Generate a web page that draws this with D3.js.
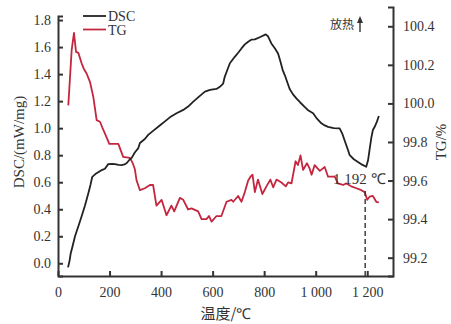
<!DOCTYPE html>
<html>
<head>
<meta charset="utf-8">
<script src="https://cdn.jsdelivr.net/npm/d3@7"></script>
<style>
    body { margin: 0; background: #fff; }
    svg { display: block; }
    .axis path, .axis line { stroke: #333; stroke-width: 2; }
    .axis text { font-family: "Liberation Serif", "DejaVu Serif", serif; font-size: 14px; fill: #333; }
</style>
</head>
<body>
<svg id="chart" width="451" height="324"></svg>
<script>
// temperature (℃) and DSC (mW/mg)
const dscTemp = [39, 45, 49, 57, 66, 80, 92, 105, 118, 126, 133, 145, 156, 170, 182, 195, 210, 221, 235, 247, 258, 266, 279, 286, 298, 311, 318, 337, 350, 369, 395, 415, 434, 460, 486, 505, 524, 545, 570, 590, 602, 615, 628, 641, 647, 657, 667, 686, 700, 712, 725, 738, 750, 764, 785, 806, 815, 828, 842, 854, 862, 872, 880, 899, 912, 925, 940, 957, 972, 990, 1005, 1022, 1035, 1048, 1070, 1093, 1103, 1112, 1125, 1132, 1148, 1164, 1180, 1196, 1203, 1209, 1216, 1222, 1229, 1238, 1245]
const dscValue = [-0.03, 0.02, 0.07, 0.13, 0.2, 0.28, 0.35, 0.43, 0.52, 0.58, 0.64, 0.66, 0.673, 0.69, 0.70, 0.734, 0.735, 0.734, 0.728, 0.727, 0.732, 0.74, 0.77, 0.78, 0.82, 0.85, 0.89, 0.92, 0.95, 0.98, 1.02, 1.05, 1.08, 1.11, 1.135, 1.16, 1.195, 1.23, 1.27, 1.283, 1.287, 1.29, 1.306, 1.33, 1.38, 1.43, 1.48, 1.528, 1.56, 1.59, 1.62, 1.64, 1.655, 1.657, 1.675, 1.694, 1.68, 1.627, 1.59, 1.553, 1.50, 1.43, 1.393, 1.29, 1.25, 1.22, 1.19, 1.158, 1.13, 1.11, 1.07, 1.036, 1.02, 1.01, 1.0, 0.998, 0.96, 0.91, 0.84, 0.80, 0.77, 0.75, 0.73, 0.714, 0.76, 0.84, 0.93, 0.986, 1.01, 1.05, 1.09]

// temperature (℃) and TG (%)
const tgTemp = [40, 53, 62, 70, 79, 92, 100, 111, 124, 137, 150, 163, 172, 182, 199, 234, 253, 279, 290, 298, 305, 318, 337, 357, 369, 382, 402, 421, 440, 451, 473, 486, 505, 518, 544, 557, 576, 586, 596, 615, 634, 654, 673, 680, 699, 712, 725, 738, 747, 755, 764, 776, 793, 809, 824, 835, 848, 867, 884, 893, 906, 922, 931, 941, 951, 966, 977, 984, 996, 1016, 1035, 1048, 1074, 1086, 1106, 1119, 1138, 1158, 1177, 1190, 1200, 1209, 1222, 1235, 1245]
const tgValue = [99.99, 100.276, 100.366, 100.267, 100.262, 100.207, 100.18, 100.155, 100.112, 100.034, 99.913, 99.905, 99.875, 99.845, 99.79, 99.79, 99.723, 99.718, 99.69, 99.66, 99.6, 99.55, 99.56, 99.577, 99.577, 99.47, 99.5, 99.42, 99.47, 99.44, 99.51, 99.5, 99.45, 99.456, 99.44, 99.40, 99.40, 99.416, 99.387, 99.416, 99.416, 99.49, 99.5, 99.49, 99.52, 99.49, 99.54, 99.6, 99.62, 99.63, 99.54, 99.605, 99.53, 99.57, 99.605, 99.565, 99.605, 99.59, 99.57, 99.59, 99.585, 99.70, 99.68, 99.73, 99.655, 99.69, 99.66, 99.63, 99.68, 99.65, 99.67, 99.62, 99.62, 99.585, 99.577, 99.585, 99.57, 99.56, 99.55, 99.54, 99.50, 99.516, 99.52, 99.49, 99.487]

const xTicks = [0, 200, 400, 600, 800, 1000, 1200]
const dscTicks = [0.0, 0.2, 0.4, 0.6, 0.8, 1.0, 1.2, 1.4, 1.6, 1.8]
const tgTicks = [99.2, 99.4, 99.6, 99.8, 100.0, 100.2, 100.4]
const series = ["DSC", "TG"]
const colors = { DSC: "#222", TG: "#c3263e" }
const peakTemp = 1192
const peakLabel = "1 192 ℃"

const svg = d3.select("#chart")

const x = d3.scaleLinear().domain([0, 1300]).range([58, 393])
const yDsc = d3.scaleLinear().domain([-0.094, 1.83]).range([276, 16])
const yTg = d3.scaleLinear().domain([99.105, 100.5]).range([276, 7])

function fmtX(d) {
    return d >= 1000 ? Math.floor(d / 1000) + " " + d3.format("03")(d % 1000) : String(d)
}

function drawAxes() {
    svg.append("g")
        .attr("class", "axis")
        .attr("transform", "translate(0,276)")
        .call(d3.axisBottom(x).tickValues(xTicks).tickFormat(fmtX).tickSizeInner(-5).tickSizeOuter(0).tickPadding(11))

    svg.append("g")
        .attr("class", "axis")
        .attr("transform", "translate(58,0)")
        .call(d3.axisLeft(yDsc).tickValues(dscTicks).tickFormat(d3.format(".1f")).tickSizeInner(-5).tickSizeOuter(-5).tickPadding(7))

    svg.append("g")
        .attr("class", "axis")
        .attr("transform", "translate(393,0)")
        .call(d3.axisRight(yTg).tickValues(tgTicks).tickFormat(d3.format(".1f")).tickSizeInner(-5).tickSizeOuter(-5).tickPadding(10))

    svg.selectAll(".axis .domain").attr("fill", "none")
}

function drawLines() {
    const dscLine = d3.line()
        .x((d, i) => x(dscTemp[i]))
        .y(d => yDsc(d))

    const tgLine = d3.line()
        .x((d, i) => x(tgTemp[i]))
        .y(d => yTg(d))

    svg.append("path")
        .datum(tgValue)
        .attr("fill", "none")
        .attr("stroke", colors.TG)
        .attr("stroke-width", 1.8)
        .attr("stroke-linejoin", "round")
        .attr("d", tgLine)

    svg.append("path")
        .datum(dscValue)
        .attr("fill", "none")
        .attr("stroke", colors.DSC)
        .attr("stroke-width", 1.8)
        .attr("stroke-linejoin", "round")
        .attr("d", dscLine)
}

function drawNotes() {
    // dashed marker at the DSC minimum
    svg.append("line")
        .attr("x1", x(peakTemp)).attr("x2", x(peakTemp))
        .attr("y1", 191).attr("y2", 276)
        .attr("stroke", "#333")
        .attr("stroke-width", 1.4)
        .attr("stroke-dasharray", "5,3")

    svg.append("text")
        .attr("x", 333).attr("y", 184)
        .attr("font-family", "Liberation Serif, serif")
        .attr("font-size", 15)
        .attr("fill", "#333")
        .text(peakLabel)

    svg.append("text")
        .attr("x", 354).attr("y", 29)
        .attr("text-anchor", "end")
        .attr("font-family", "Noto Sans CJK SC")
        .attr("font-size", 12)
        .attr("fill", "#333")
        .text("放热")

    svg.append("line")
        .attr("x1", 360).attr("x2", 360)
        .attr("y1", 32).attr("y2", 21)
        .attr("stroke", "#333")
        .attr("stroke-width", 1.4)
    svg.append("path")
        .attr("d", "M357,23 L360,16 L363,23 Z")
        .attr("fill", "#333")

    // legend
    const legend = svg.append("g")
        .selectAll("g")
        .data(series)
        .join("g")
        .attr("transform", (d, i) => "translate(83," + (16 + i * 13.5) + ")")

    legend.append("line")
        .attr("x1", 0).attr("x2", 23)
        .attr("stroke", d => colors[d])
        .attr("stroke-width", 1.8)

    legend.append("text")
        .attr("x", 25).attr("y", 5)
        .attr("font-family", "Liberation Serif, serif")
        .attr("font-size", 14)
        .attr("fill", "#333")
        .text(d => d)

    // axis titles
    svg.append("text")
        .attr("transform", "translate(24,142) rotate(-90)")
        .attr("text-anchor", "middle")
        .attr("font-family", "Liberation Serif, serif")
        .attr("font-size", 15)
        .attr("fill", "#333")
        .text("DSC/(mW/mg)")

    svg.append("text")
        .attr("transform", "translate(446,142) rotate(-90)")
        .attr("text-anchor", "middle")
        .attr("font-family", "Liberation Serif, serif")
        .attr("font-size", 15)
        .attr("fill", "#333")
        .text("TG/%")

    svg.append("text")
        .attr("x", 226).attr("y", 319)
        .attr("text-anchor", "middle")
        .attr("font-size", 15)
        .attr("fill", "#333")
        .text("温度/")
        .attr("font-family", "Noto Sans CJK SC")
        .append("tspan")
        .attr("font-family", "Liberation Serif, serif")
        .text("℃")
}

drawAxes()
drawLines()
drawNotes()
</script>
</body>
</html>
